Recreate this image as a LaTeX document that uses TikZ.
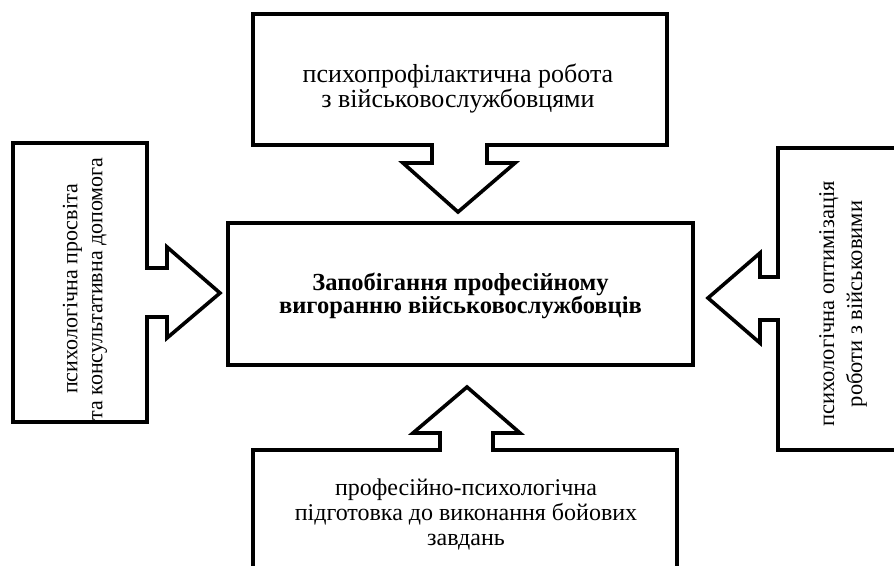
\documentclass[tikz,border=0pt]{standalone}
\usepackage{fontspec}
\setmainfont{Liberation Serif}
\usepackage{tikz}
\tikzset{
	outline/.style={line width=3.6pt,line join=miter},
	lbl/.style={align=center,font=\fontsize{#1}{25}\selectfont},
	lbl/.default=24,
}

\begin{document}
\begin{tikzpicture}[x=1pt,y=-1pt]
	\useasboundingbox (0,0) rectangle (894,565);
	\clip (0,0) rectangle (894,565);
	
	\node[draw,outline,minimum width=465pt,minimum height=142pt] (main) at (460.5,294) {};	%central box
	\node[align=center,font=\fontsize{24.5}{23}\selectfont\bfseries] (title) at (main.center) [yshift=-2pt]
		{Запобігання професійному\\вигоранню військовослужбовців};
	
	\draw[outline] (253,14)--(667,14)--(667,145)--(487,145)--(487,163)--(515,163)--(458,212)--(403,163)--(432,163)--(432,145)--(253,145)--cycle;	%top callout
	\draw[outline] (13,143)--(147,143)--(147,268)--(167,268)--(167,247)--(220,293)--(167,338)--(167,317)--(147,317)--(147,422)--(13,422)--cycle;	%left callout
	\draw[outline] (920,148)--(778,148)--(778,277)--(760,277)--(760,253)--(708,298)--(760,343)--(760,320)--(778,320)--(778,450)--(920,450);	%right callout
	\draw[outline] (253,600)--(253,450)--(440,450)--(440,433)--(413,433)--(467,387)--(520,433)--(493,433)--(493,450)--(677,450)--(677,600);	%bottom callout
	
	\node[lbl=26] (prof) at (458,88) {психопрофілактична робота\\з військовослужбовцями};
	\node[lbl=22,rotate=90] (educ) at (85,289) {психологічна просвіта\\та консультативна допомога};
	\node[lbl=22.5,rotate=90,font=\fontsize{22.5}{28}\selectfont] (optim) at (843,304) {психологічна оптимізація\\роботи з військовими};
	\node[lbl] (train) at (466,514) {професійно-психологічна\\підготовка до виконання бойових\\завдань};
\end{tikzpicture}
\end{document}
